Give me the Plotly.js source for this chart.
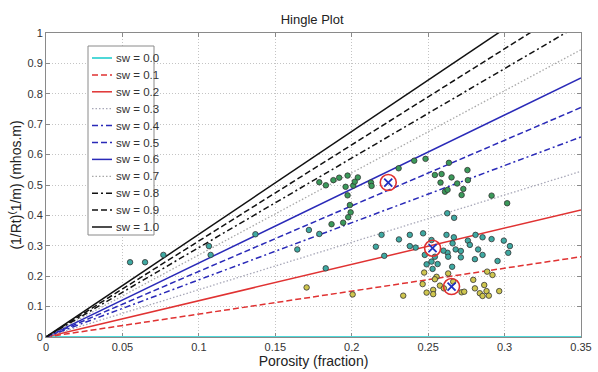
<!DOCTYPE html>
<html>
<head>
<meta charset="utf-8">
<script src="https://cdn.plot.ly/plotly-3.0.1.min.js"></script>
<style>html,body{margin:0;padding:0;background:#fff}#chart{width:598px;height:372px}</style>
</head>
<body>
<div id="chart"></div>
<script>
// ---- data ----
const swLabels = ['sw = 0.0','sw = 0.1','sw = 0.2','sw = 0.3','sw = 0.4','sw = 0.5','sw = 0.6','sw = 0.7','sw = 0.8','sw = 0.9','sw = 1.0'];
const lineX = [0, 0.35];
const lineEndY = [0, 0.264, 0.418, 0.545, 0.658, 0.755, 0.852, 0.945, 1.03, 1.106, 1.183];

const greenX = [0.1788,0.1831,0.188,0.1918,0.1973,0.196,0.201,0.202,0.204,0.2126,0.213,0.1973,0.1988,0.1993,0.1977,0.1944,0.1868,0.2307,0.2409,0.2483,0.2544,0.2588,0.2636,0.2653,0.2581,0.269,0.2757,0.276,0.273,0.261,0.2627,0.2719,0.2915,0.3017];
const greenY = [0.509,0.499,0.516,0.524,0.531,0.494,0.498,0.511,0.525,0.508,0.497,0.466,0.434,0.41,0.394,0.376,0.371,0.555,0.58,0.586,0.533,0.536,0.573,0.525,0.508,0.505,0.549,0.516,0.487,0.478,0.484,0.467,0.465,0.44];

const tealX = [0.055,0.0648,0.0768,0.1066,0.1077,0.137,0.1644,0.172,0.1788,0.183,0.2195,0.2158,0.2213,0.2309,0.238,0.238,0.2418,0.2467,0.2522,0.2478,0.249,0.2522,0.2544,0.2562,0.2529,0.262,0.2668,0.266,0.268,0.2627,0.2631,0.26,0.2657,0.2714,0.2714,0.276,0.2773,0.281,0.2827,0.2856,0.2856,0.2915,0.2954,0.2995,0.3035,0.3024,0.2806,0.2625,0.267];
const tealY = [0.246,0.246,0.27,0.299,0.27,0.338,0.288,0.352,0.339,0.226,0.336,0.297,0.267,0.321,0.336,0.299,0.294,0.341,0.319,0.27,0.239,0.248,0.264,0.24,0.224,0.336,0.328,0.308,0.288,0.277,0.264,0.284,0.231,0.283,0.262,0.317,0.303,0.336,0.288,0.328,0.27,0.322,0.25,0.317,0.299,0.277,0.256,0.407,0.392];

const yellowX = [0.2474,0.2555,0.2544,0.2631,0.2464,0.249,0.2533,0.2533,0.2577,0.2603,0.2664,0.2719,0.2736,0.2795,0.2806,0.2838,0.2856,0.2867,0.2882,0.2897,0.2886,0.2921,0.2965,0.2337,0.2006,0.1705];
const yellowY = [0.212,0.198,0.19,0.209,0.174,0.146,0.155,0.141,0.169,0.16,0.182,0.147,0.149,0.188,0.16,0.144,0.135,0.171,0.151,0.136,0.215,0.204,0.151,0.136,0.14,0.163];

const markX = [0.2239, 0.2529, 0.2653];
const markY = [0.508, 0.292, 0.166];

// ---- styles ----
const lineColors = ['#4fd8d8','#e03232','#e03232','#a8a8b8','#2a2ab8','#2a2ab8','#2a2ab8','#a8a8a8','#111111','#111111','#111111'];
const DASH = '6px,3px', DASHDOT = '6px,3px,2px,3px', DOT = '1.5px,2px';
const lineDashes = ['solid',DASH,'solid',DOT,DASHDOT,DASH,'solid',DOT,DASHDOT,DASH,'solid'];
const lineWidths = [2,1.5,1.5,1.3,1.5,1.5,1.5,1.3,1.5,1.5,1.5];

const traces = [];
swLabels.forEach((lab, i) => {
  traces.push({
    type: 'scatter', mode: 'lines', name: lab, showlegend: false,
    x: lineX, y: [0, lineEndY[i]],
    line: {color: lineColors[i], dash: lineDashes[i], width: lineWidths[i]},
    hoverinfo: 'skip'
  });
});
function pts(x, y, fill) {
  return {type:'scatter', mode:'markers', x:x, y:y, showlegend:false, hoverinfo:'skip',
    marker:{symbol:'circle', size:5.5, color:fill, line:{color:'#333', width:0.8}}};
}
traces.push(pts(greenX, greenY, '#3a9a5a'));
traces.push(pts(tealX, tealY, '#3ea9a2'));
traces.push(pts(yellowX, yellowY, '#cfc64e'));
traces.push({type:'scatter', mode:'markers', x:markX, y:markY, showlegend:false, hoverinfo:'skip',
  marker:{symbol:'circle-open', size:16, color:'#e03030', line:{width:1.6}}});
traces.push({type:'scatter', mode:'markers', x:markX, y:markY, showlegend:false, hoverinfo:'skip',
  marker:{symbol:'x-thin-open', size:8, color:'#2030c0', line:{width:1.8, color:'#2030c0'}}});

// ---- compact MATLAB-style legend box (layout decoration, in paper space) ----
const PL = 46, PR = 581, PT = 33, PB = 337;           // plot area in pixels
const px2x = p => (p - PL) / (PR - PL);
const px2y = p => (PB - p) / (PB - PT);
const LEG = {left: 88, right: 154, top: 46, bottom: 235, row0: 58, step: 16.9, s0: 92, s1: 112, tx: 114};
const shapes = [{type:'rect', xref:'paper', yref:'paper', layer:'above',
  x0: px2x(LEG.left), x1: px2x(LEG.right), y0: px2y(LEG.bottom), y1: px2y(LEG.top),
  fillcolor:'#fff', line:{color:'#8a8a8a', width:1}}];
const annotations = [];
swLabels.forEach((lab, i) => {
  const yy = px2y(LEG.row0 + i * LEG.step);
  shapes.push({type:'line', xref:'paper', yref:'paper', layer:'above',
    x0: px2x(LEG.s0), x1: px2x(LEG.s1), y0: yy, y1: yy,
    line:{color: lineColors[i], dash: lineDashes[i], width: lineWidths[i]}});
  annotations.push({xref:'paper', yref:'paper', x: px2x(LEG.tx), y: yy, xanchor:'left', yanchor:'middle',
    text: lab, showarrow:false, font:{family:'Liberation Sans, Arial, sans-serif', size:11.5, color:'#333'}});
});

const FONT = 'Liberation Sans, Arial, sans-serif';
const axisCommon = {
  showline: true, mirror: 'ticks', linecolor: '#8a8a8a', linewidth: 1,
  ticks: 'inside', ticklen: 4, tickcolor: '#8a8a8a',
  showgrid: true, gridcolor: '#c4c4c4', griddash: '1px,2px', gridwidth: 1,
  zeroline: false, tickfont: {family: FONT, size: 11, color: '#333'},
  layer: 'below traces', automargin: false
};
const layout = {
  width: 598, height: 372,
  margin: {l: PL, r: 598 - PR, t: PT, b: 372 - PB},
  paper_bgcolor: '#fff', plot_bgcolor: '#fff',
  font: {family: FONT, color: '#222'},
  title: {text: 'Hingle Plot', font: {family: FONT, size: 13, color: '#222'}, x: 0.522, xanchor: 'center', y: 0.948, yanchor: 'middle'},
  xaxis: Object.assign({}, axisCommon, {
    range: [0, 0.35], tick0: 0, dtick: 0.05,
    title: {text: 'Porosity (fraction)', font: {family: FONT, size: 14, color: '#222'}, standoff: 0}
  }),
  yaxis: Object.assign({}, axisCommon, {
    range: [0, 1], tick0: 0, dtick: 0.1,
    title: {text: '(1/Rt)<sup>(</sup>1/m) (mhos.m)', font: {family: FONT, size: 14, color: '#222'}, standoff: 2}
  }),
  showlegend: false,
  shapes: shapes,
  annotations: annotations
};
Plotly.newPlot('chart', traces, layout, {displayModeBar: false, staticPlot: true});
</script>
</body>
</html>
